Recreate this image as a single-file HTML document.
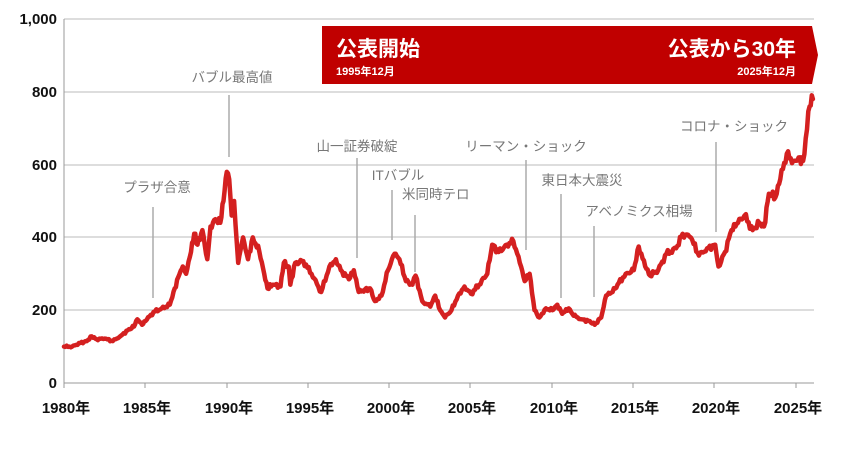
<!DOCTYPE html>
<html><head><meta charset="utf-8"><style>
body{margin:0;background:#fff;}
svg{display:block;font-family:"Liberation Sans","Noto Sans CJK JP",sans-serif;}
.yl{font-size:15px;text-anchor:end;fill:#111;font-weight:bold;}
.xl{font-size:15px;font-weight:bold;text-anchor:middle;fill:#111;}
.an{font-size:13.5px;fill:#777;text-anchor:middle;}
.al{stroke:#aaa;stroke-width:1.5;}
</style></head><body>
<svg width="849" height="456" viewBox="0 0 849 456">
<g stroke="#bbb" stroke-width="1">
<line x1="64" y1="19" x2="814" y2="19"/><line x1="64" y1="92" x2="814" y2="92"/>
<line x1="64" y1="165" x2="814" y2="165"/><line x1="64" y1="237" x2="814" y2="237"/>
<line x1="64" y1="310" x2="814" y2="310"/>
</g>
<line x1="64" y1="19" x2="64" y2="383" stroke="#999"/>
<line x1="64" y1="383" x2="814" y2="383" stroke="#999"/>
<g stroke="#999">
<line x1="64" y1="383" x2="64" y2="388"/><line x1="145" y1="383" x2="145" y2="388"/><line x1="227" y1="383" x2="227" y2="388"/><line x1="308" y1="383" x2="308" y2="388"/><line x1="389" y1="383" x2="389" y2="388"/><line x1="470" y1="383" x2="470" y2="388"/><line x1="552" y1="383" x2="552" y2="388"/><line x1="633" y1="383" x2="633" y2="388"/><line x1="714" y1="383" x2="714" y2="388"/><line x1="796" y1="383" x2="796" y2="388"/>
</g>
<g class="yl"><text x="57" y="24">1,000</text><text x="57" y="97">800</text><text x="57" y="170">600</text><text x="57" y="242">400</text><text x="57" y="315">200</text><text x="57" y="388">0</text></g>
<g class="xl"><text x="66" y="413">1980年</text><text x="147" y="413">1985年</text><text x="229" y="413">1990年</text><text x="310" y="413">1995年</text><text x="391" y="413">2000年</text><text x="472" y="413">2005年</text><text x="554" y="413">2010年</text><text x="635" y="413">2015年</text><text x="716" y="413">2020年</text><text x="798" y="413">2025年</text></g>
<polygon points="322,26 812,26 818,55 812,84 322,84" fill="#c00000"/>
<text x="336" y="56" font-size="21" font-weight="bold" fill="#fff">公表開始</text>
<text x="336" y="75" font-size="11" font-weight="bold" fill="#fff">1995年12月</text>
<text x="796" y="56" font-size="21" font-weight="bold" fill="#fff" text-anchor="end">公表から30年</text>
<text x="796" y="75" font-size="11" font-weight="bold" fill="#fff" text-anchor="end">2025年12月</text>
<g class="al">
<line x1="153" y1="207" x2="153" y2="298"/><line x1="229" y1="95" x2="229" y2="157"/>
<line x1="357" y1="158" x2="357" y2="258"/><line x1="392" y1="190" x2="392" y2="240"/>
<line x1="415" y1="215" x2="415" y2="272"/><line x1="526" y1="160" x2="526" y2="250"/>
<line x1="561" y1="194" x2="561" y2="298"/><line x1="594" y1="226" x2="594" y2="297"/>
<line x1="716" y1="142" x2="716" y2="232"/>
</g>
<g class="an">
<text x="157" y="192">プラザ合意</text><text x="232" y="82">バブル最高値</text>
<text x="357" y="151">山一証券破綻</text><text x="398" y="180">ITバブル</text>
<text x="402" y="199" text-anchor="start">米同時テロ</text><text x="526" y="151">リーマン・ショック</text>
<text x="582" y="185">東日本大震災</text><text x="639" y="216">アベノミクス相場</text>
<text x="734" y="131">コロナ・ショック</text>
</g>
<path id="ln" fill="none" stroke="#d42020" stroke-width="4.5" stroke-linejoin="round" stroke-linecap="round" d=""/>
</svg>
<script>
var d=[1980,100,1980.5,100,1981,110,1981.4,115,1981.7,128,1982,120,1982.5,122,1983,115,1983.5,130,1984,148,1984.3,155,1984.5,175,1984.8,160,1985,170,1985.5,195,1986,205,1986.5,215,1986.8,260,1987.1,300,1987.3,320,1987.5,300,1987.8,360,1988,410,1988.2,380,1988.5,420,1988.8,340,1989,430,1989.3,450,1989.6,440,1989.8,500,1990,580,1990.15,560,1990.3,460,1990.45,500,1990.7,330,1990.9,380,1991,400,1991.3,340,1991.6,400,1992,360,1992.3,300,1992.5,260,1992.8,270,1993.3,265,1993.5,330,1993.8,320,1993.9,270,1994.2,330,1994.7,335,1995.2,300,1995.8,250,1996.3,320,1996.7,340,1997,310,1997.5,285,1997.8,310,1998.1,250,1998.8,260,1999.1,225,1999.5,240,1999.9,310,2000.3,355,2000.6,340,2001,280,2001.4,270,2001.6,295,2002,225,2002.5,210,2002.8,240,2003.1,200,2003.4,180,2003.8,200,2004.2,240,2004.6,265,2005,245,2005.5,270,2006,300,2006.3,380,2006.7,360,2007.2,380,2007.6,390,2008,330,2008.3,280,2008.6,300,2008.9,200,2009.2,180,2009.6,205,2010,200,2010.3,215,2010.6,190,2011,205,2011.3,185,2011.8,175,2012.3,170,2012.6,160,2013,180,2013.3,240,2013.7,250,2014,270,2014.5,300,2015,310,2015.3,375,2015.7,320,2016,295,2016.5,310,2017,355,2017.6,370,2018,410,2018.5,400,2019,350,2019.5,370,2020,380,2020.2,320,2020.6,360,2021,420,2021.4,440,2021.8,460,2022.3,420,2022.7,440,2023,430,2023.3,520,2023.7,510,2024,560,2024.4,630,2024.8,610,2025.2,620,2025.4,610,2025.8,760,2026,780];
var s="",k=0;
function P(t,v){var x=64+(t-1980)*16.28,y=383-v*0.364;s+=(k++?"L":"M")+x.toFixed(1)+","+y.toFixed(1);}
for(var i=0;i<d.length-2;i+=2){var t0=d[i],v0=d[i+1],t1=d[i+2],v1=d[i+3];var n=Math.max(1,Math.round((t1-t0)/0.08));
for(var j=0;j<n;j++){var f=j/n,t=t0+(t1-t0)*f,v=v0+(v1-v0)*f;if(j>0){v*=1+0.025*Math.sin(t*47.3)*Math.cos(t*13.1);}P(t,v);}}
P(2026,780);
document.getElementById("ln").setAttribute("d",s);
</script>
</body></html>
